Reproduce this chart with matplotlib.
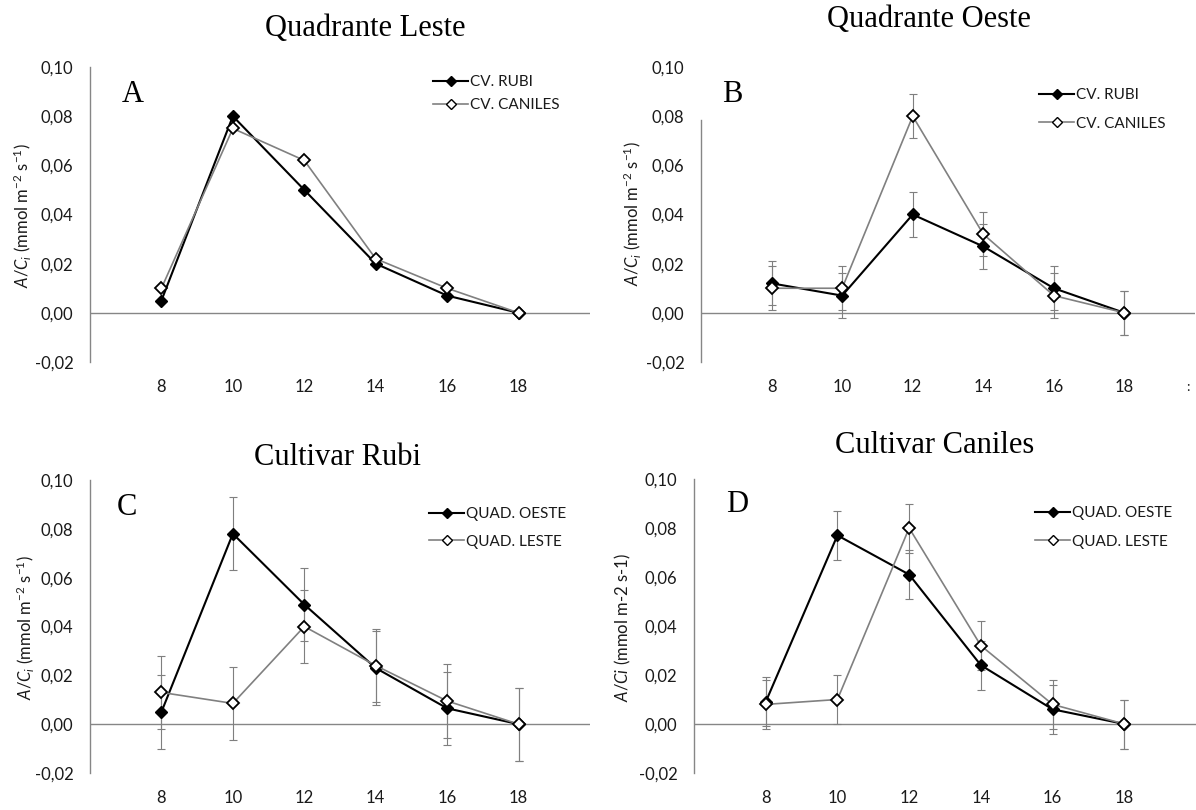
import matplotlib
matplotlib.use("Agg")
import matplotlib.pyplot as plt
from matplotlib.lines import Line2D

# ---------------- data ----------------
hours = [8, 10, 12, 14, 16, 18]
hour_labels = ["8", "10", "12", "14", "16", "18"]
y_ticks = [-0.02, 0.00, 0.02, 0.04, 0.06, 0.08, 0.10]
y_tick_labels = ["-0,02", "0,00", "0,02", "0,04", "0,06", "0,08", "0,10"]

# Panel A - Quadrante Leste
a_rubi = [0.005, 0.080, 0.050, 0.020, 0.007, 0.000]
a_caniles = [0.010, 0.075, 0.062, 0.022, 0.010, 0.000]

# Panel B - Quadrante Oeste
b_rubi = [0.012, 0.007, 0.040, 0.027, 0.010, 0.000]
b_caniles = [0.010, 0.010, 0.080, 0.032, 0.007, 0.000]
b_rubi_err = [0.009, 0.009, 0.009, 0.009, 0.009, 0.009]
b_caniles_err = [0.009, 0.009, 0.009, 0.009, 0.009, 0.009]

# Panel C - Cultivar Rubi
c_oeste = [0.005, 0.078, 0.049, 0.023, 0.0065, 0.000]
c_leste = [0.013, 0.0085, 0.040, 0.024, 0.0095, 0.000]
c_oeste_err = [0.015, 0.015, 0.015, 0.015, 0.015, 0.015]
c_leste_err = [0.015, 0.015, 0.015, 0.015, 0.015, 0.015]

# Panel D - Cultivar Caniles
d_oeste = [0.009, 0.077, 0.061, 0.024, 0.006, 0.000]
d_leste = [0.008, 0.010, 0.080, 0.032, 0.008, 0.000]
d_oeste_err = [0.010, 0.010, 0.010, 0.010, 0.010, 0.010]
d_leste_err = [0.010, 0.010, 0.010, 0.010, 0.010, 0.010]

# ---------------- style ----------------
plt.rcParams['font.family'] = ['Lato', 'DejaVu Sans']
plt.rcParams['mathtext.fontset'] = 'custom'
plt.rcParams['mathtext.rm'] = 'Lato'
plt.rcParams['mathtext.it'] = 'Lato:italic'
plt.rcParams['mathtext.bf'] = 'Lato:bold'

W, H = 1196, 810
fig = plt.figure(figsize=(W / 100, H / 100), dpi=100)

AXIS_C = '#868686'
TXT_C = '#1a1a1a'
BLACK = '#000000'
GRAY = '#808080'
ERR_C = '#7f7f7f'


def px_axes(left, right, top, bottom):
    return fig.add_axes([left / W, 1 - bottom / H, (right - left) / W, (bottom - top) / H])


def ftext(x, y, s, **kw):
    fig.text(x / W, 1 - y / H, s, **kw)


def setup(ax, spine_top=0.10):
    ax.set_xlim(6, 20)
    ax.set_ylim(-0.02, 0.10)
    for s in ['top', 'right', 'bottom']:
        ax.spines[s].set_visible(False)
    ax.spines['left'].set_color(AXIS_C)
    ax.spines['left'].set_linewidth(1.0)
    ax.spines['left'].set_bounds(-0.02, spine_top)
    ax.axhline(0, color=AXIS_C, lw=1.0, zorder=1)
    ax.set_xticks(hours)
    ax.set_xticklabels(hour_labels)
    ax.set_yticks(y_ticks)
    ax.set_yticklabels(y_tick_labels)
    ax.tick_params(axis='both', length=0, labelsize=12, colors=TXT_C)
    ax.tick_params(axis='x', pad=12)
    ax.tick_params(axis='y', pad=12)
    ax.patch.set_alpha(0)


def series(ax, y1, y2, e1=None, e2=None):
    if e1 is not None:
        ax.errorbar(hours, y1, yerr=e1, fmt='none', ecolor=ERR_C, elinewidth=0.8,
                    capsize=3.2, capthick=0.8, zorder=2)
        ax.errorbar(hours, y2, yerr=e2, fmt='none', ecolor=ERR_C, elinewidth=0.8,
                    capsize=3.2, capthick=0.8, zorder=2)
    ax.plot(hours, y1, color=BLACK, lw=1.5, marker='D', ms=6, mfc=BLACK,
            mec=BLACK, zorder=3, clip_on=False)
    ax.plot(hours, y2, color=GRAY, lw=1.2, marker='D', ms=6, mfc='white',
            mec=BLACK, mew=1.3, zorder=4, clip_on=False)


def legend(x, ytop, labels, spacing):
    handles = [
        Line2D([], [], color=BLACK, lw=1.5, marker='D', ms=5, mfc=BLACK, mec=BLACK),
        Line2D([], [], color=GRAY, lw=1.2, marker='D', ms=5, mfc='white', mec=BLACK, mew=1.0),
    ]
    fig.legend(handles, labels, loc='upper left',
               bbox_to_anchor=(x / W, 1 - ytop / H), frameon=False,
               borderpad=0, borderaxespad=0, handlelength=2.3, handletextpad=0.15,
               labelspacing=spacing, fontsize=11, labelcolor=TXT_C)


title_kw = dict(family=['Liberation Serif', 'DejaVu Serif'], fontsize=22, color='black',
                ha='center', va='baseline')
letter_kw = dict(family=['Liberation Serif', 'DejaVu Serif'], fontsize=22, color='black',
                 ha='left', va='baseline')
ylab_kw = dict(fontsize=12, color=TXT_C, rotation=90, ha='center', va='center')

ylab_sub = r'$A/C_i$ (mmol m$^{-2}$ s$^{-1}$)'
ylab_plain = r'$A/Ci$ (mmol m-2 s-1)'

# Panel A
axA = px_axes(90, 590, 67, 362)
setup(axA)
series(axA, a_rubi, a_caniles)
ftext(365, 36, 'Quadrante Leste', **title_kw)
ftext(122, 102, 'A', **letter_kw)
ftext(22, 216, ylab_sub, **ylab_kw)
legend(433, 75, ['CV. RUBI', 'CV. CANILES'], 0.6)

# Panel B
axB = px_axes(701, 1195, 67, 362)
setup(axB, spine_top=0.0785)
series(axB, b_rubi, b_caniles, b_rubi_err, b_caniles_err)
ftext(929, 27, 'Quadrante Oeste', **title_kw)
ftext(722, 102, 'B', **letter_kw)
ftext(632, 214, ylab_sub, **ylab_kw)
legend(1039, 88, ['CV. RUBI', 'CV. CANILES'], 0.95)
ftext(1188, 387, ':', fontsize=10, color=TXT_C, ha='center', va='center')

# Panel C
axC = px_axes(90, 590, 480, 773)
setup(axC)
series(axC, c_oeste, c_leste, c_oeste_err, c_leste_err)
ftext(338, 465, 'Cultivar Rubi', **title_kw)
ftext(117, 515, 'C', **letter_kw)
ftext(25, 628, ylab_sub, **ylab_kw)
legend(429, 507, ['QUAD. OESTE', 'QUAD. LESTE'], 0.9)

# Panel D
axD = px_axes(694, 1196, 479, 773)
setup(axD)
series(axD, d_oeste, d_leste, d_oeste_err, d_leste_err)
ftext(935, 453, 'Cultivar Caniles', **title_kw)
ftext(726, 512, 'D', **letter_kw)
ftext(623, 628, ylab_plain, **ylab_kw)
legend(1035, 506, ['QUAD. OESTE', 'QUAD. LESTE'], 0.95)

fig.savefig('out.png', dpi=100, facecolor='white')
